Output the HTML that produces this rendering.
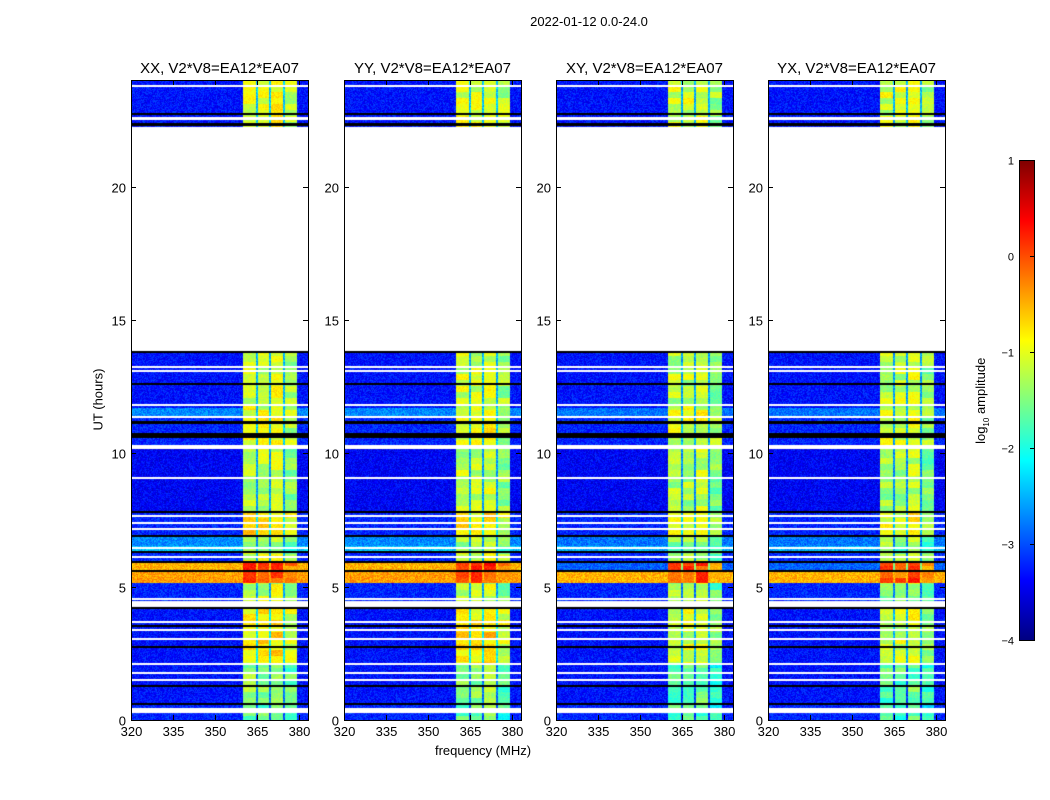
<!DOCTYPE html>
<html><head><meta charset="utf-8"><style>
body{margin:0;background:#fff;font-family:"Liberation Sans",sans-serif;}
#wrap{position:relative;width:1050px;height:800px;overflow:hidden;background:#fff}
.t{position:absolute;white-space:nowrap;color:#000}
canvas{position:absolute}
</style></head><body>
<div id="wrap">
<div class="t" style="left:489px;top:14px;width:200px;text-align:center;font-size:13px">2022-01-12 0.0-24.0</div>
<div class="t" style="left:48px;top:392px;width:100px;text-align:center;font-size:13px;transform:rotate(-90deg)">UT (hours)</div>
<div class="t" style="left:383px;top:743px;width:200px;text-align:center;font-size:13px">frequency (MHz)</div>
<div class="t" style="left:922px;top:392px;width:120px;text-align:center;font-size:13px;transform:rotate(-90deg)">log<sub style="font-size:8px">10</sub> amplitude</div>
<svg id="svg" width="1050" height="800" style="position:absolute;left:0;top:0"></svg>
</div>
<script>
const panelTitles=["XX, V2*V8=EA12*EA07","YY, V2*V8=EA12*EA07","XY, V2*V8=EA12*EA07","YX, V2*V8=EA12*EA07"];
const panelCross=[false,false,true,true];
const yTicks=[0,5,10,15,20];
const xTicks=[320,335,350,365,380];
const cbTicks=[1,0,-1,-2,-3,-4];
// data segments (hours), background log amplitude and RFI level
const segStart=[0,0.6,2.1,4.24,5.14,5.62,5.89,6.3,6.52,6.9,7.8,10.3,11.36,11.7,22.24];
const segEnd=[0.6,2.1,4.24,5.14,5.62,5.89,6.3,6.52,6.9,7.8,10.3,11.36,11.7,13.84,24];
const segBgPar=[-3.2,-3.3,-3.3,-3.2,-0.4,-0.5,-3.2,-2.4,-2.7,-3.2,-3.4,-3.2,-2.7,-3.3,-3.3];
const segBgCross=[-3.2,-3.3,-3.3,-3.2,-0.5,-2.9,-3.2,-2.5,-2.8,-3.2,-3.4,-3.2,-2.8,-3.3,-3.3];
const segRfiPar=[-1.7,-1.5,-0.9,-1.3,-0.15,-0.1,-1.2,-1.6,-1.4,-0.9,-1.3,-1.1,-1.1,-1.2,-1.1];
const segRfiCross=[-1.9,-1.8,-1.2,-1.5,-0.2,-0.15,-1.4,-1.7,-1.5,-1.1,-1.4,-1.2,-1.2,-1.3,-1.2];
const rfiLo=[360,365.4,370,375];
const rfiHi=[364.6,369.3,374.3,379.3];
const rfiOff=[0.1,0.1,0.2,-0.15];
const flagStart=[0.26,4.24,13.84];
const flagEnd=[0.45,4.46,22.24];
const whiteLines=[4.54,3.04,3.37,3.67,2.1,1.76,1.5,6.11,6.45,7.16,7.39,7.65,9.07,10.2,10.26,11.36,11.81,13.09,13.24,22.54,22.57,23.77];
const blackLines=[0.6,1.27,2.74,3.52,4.2,5.6,5.92,6.3,6.9,7.8,10.6,10.68,10.74,11.12,11.17,12.6,13.8,22.3,22.36,22.72];

const PX=[131,344,556,768], PT=80, PW=177, PH=640, HMAX=24, FMIN=320, FMAX=320+177/2.8;
const yS=h=>PT+PH*(1-h/HMAX);
const xS=(f,p)=>PX[p]+(f-FMIN)/(FMAX-FMIN)*PW;
function jet(t){t=Math.max(0,Math.min(1,t));const c=v=>Math.round(255*Math.max(0,Math.min(1,v)));
 return [c(1.5-Math.abs(4*t-3)),c(1.5-Math.abs(4*t-2)),c(1.5-Math.abs(4*t-1))];}
let seed=12345;function rnd(){seed=(seed*1103515245+12345)&0x7fffffff;return seed/0x7fffffff;}
const wrap=document.getElementById('wrap'),svg=document.getElementById('svg');
const NS='http://www.w3.org/2000/svg';
function sv(tag,at){const e=document.createElementNS(NS,tag);for(const k in at)e.setAttribute(k,at[k]);svg.appendChild(e);return e;}
for(let p=0;p<4;p++){
 const cv=document.createElement('canvas');cv.width=PW;cv.height=PH;
 cv.style.left=PX[p]+'px';cv.style.top=PT+'px';
 
 
 wrap.insertBefore(cv,svg);
 const ctx=cv.getContext('2d'),img=ctx.createImageData(PW,PH),d=img.data;
 const cross=panelCross[p];
 // slow variation within RFI columns (texture)
 const blk=[];for(let b=0;b<PH/6+2;b++){blk.push([0,1,2,3].map(()=>(rnd()-0.5)*0.6));}
 for(let r=0;r<PH;r++){
  const h=HMAX*(1-(r+0.5)/PH);
  let si=-1;for(let i=0;i<segStart.length;i++)if(h>=segStart[i]&&h<segEnd[i]){si=i;break;}
  for(let c=0;c<PW;c++){
   const f=FMIN+(c+0.5)/PW*(FMAX-FMIN);let col;
   if(si<0){col=[255,255,255];}
   else{
    let v=(cross?segBgCross:segBgPar)[si];
    let ri=-1;for(let k=0;k<4;k++)if(f>=rfiLo[k]&&f<rfiHi[k])ri=k;
    const rl=(cross?segRfiCross:segRfiPar)[si];
    let nz=0.55;
    if(ri>=0){const rv=rl+rfiOff[ri]+blk[Math.floor(r/6)][ri];if(rv>v){v=rv;nz=0.3;}}
    else if(f>=rfiLo[0]&&f<rfiHi[3])v=Math.max(v,rl-1.3);
    v+=(rnd()-0.5)*nz;
    col=jet((v+4)/5);
   }
   const o=(r*PW+c)*4;d[o]=col[0];d[o+1]=col[1];d[o+2]=col[2];d[o+3]=255;
  }
 }
 ctx.putImageData(img,0,0);
 for(const h of blackLines){ctx.fillStyle='#000';ctx.fillRect(0,Math.round(yS(h)-PT)-1,PW,2);}
 for(const h of whiteLines){ctx.fillStyle='#fff';ctx.fillRect(0,Math.round(yS(h)-PT)-1,PW,2);}
 for(let i=0;i<flagStart.length;i++){ctx.fillStyle='#fff';const y1=yS(flagEnd[i])-PT,y2=yS(flagStart[i])-PT;ctx.fillRect(0,y1,PW,y2-y1);}
 const fr=sv('rect',{x:PX[p]+0.5,y:PT+0.5,width:PW,height:PH,fill:'none',stroke:'#000','stroke-width':1});
 
 const tt=sv('text',{x:PX[p]+PW/2,y:PT-7,'text-anchor':'middle','font-size':15,'font-family':'Liberation Sans, sans-serif'});
 tt.textContent=panelTitles[p];
 
 for(const t of yTicks){const y=Math.round(yS(t))+0.5;
  sv('line',{x1:PX[p],x2:PX[p]+5,y1:y,y2:y,stroke:'#000'});sv('line',{x1:PX[p]+PW-5,x2:PX[p]+PW,y1:y,y2:y,stroke:'#000'});
  const lb=sv('text',{x:PX[p]-5,y:y+5,'text-anchor':'end','font-size':13,'font-family':'Liberation Sans, sans-serif'});lb.textContent=t;
  }
 for(const t of xTicks){const x=Math.round(xS(t,p))+0.5;
  sv('line',{x1:x,x2:x,y1:PT+PH-5,y2:PT+PH,stroke:'#000'});sv('line',{x1:x,x2:x,y1:PT,y2:PT+5,stroke:'#000'});
  const lb=sv('text',{x:x,y:PT+PH+16,'text-anchor':'middle','font-size':13,'font-family':'Liberation Sans, sans-serif'});lb.textContent=t;
  }
}
const CX=1019,CY=160,CW=15,CH=480;
const defs=sv('defs',{});const g=document.createElementNS(NS,'linearGradient');
g.setAttribute('id','jetg');g.setAttribute('x1','0');g.setAttribute('y1','1');g.setAttribute('x2','0');g.setAttribute('y2','0');defs.appendChild(g);
for(let i=0;i<=8;i++){const c=jet(i/8);const s=document.createElementNS(NS,'stop');s.setAttribute('offset',i/8);s.setAttribute('stop-color','rgb('+c.join(',')+')');g.appendChild(s);}
const cb=sv('rect',{x:CX+0.5,y:CY+0.5,width:CW,height:CH,fill:'url(#jetg)',stroke:'#000'});

for(const t of cbTicks){const y=Math.round(CY+CH*(1-(t+4)/5))+0.5;
 sv('line',{x1:CX+CW-4,x2:CX+CW,y1:y,y2:y,stroke:'#000'});
 const lb=sv('text',{x:CX-5,y:y+4,'text-anchor':'end','font-size':11,'font-family':'Liberation Sans, sans-serif'});lb.textContent=(t<0?'\u2212'+(-t):t);
 }
</script>
</body></html>
